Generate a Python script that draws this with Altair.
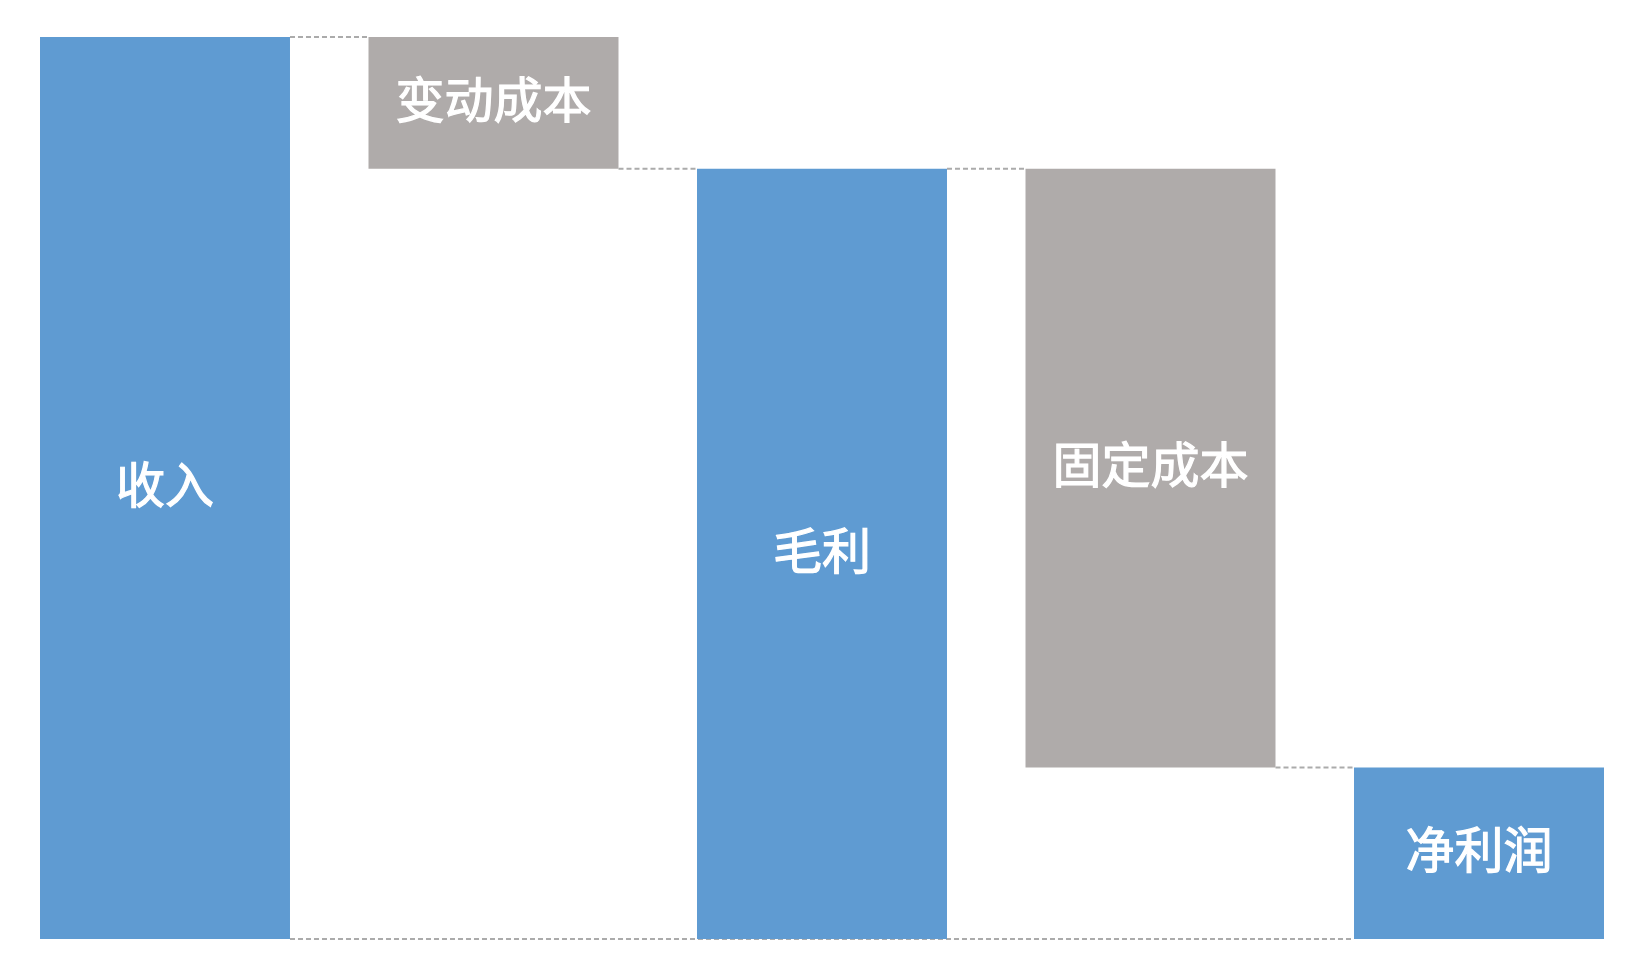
import altair as alt
import pandas as pd

categories = ["收入", "变动成本", "毛利", "固定成本", "净利润"]
amounts = [100.0, 14.6, 85.4, 66.4, 19.0]
kinds = ["total", "cost", "total", "cost", "total"]

colors = {"total": "#5F9BD2", "cost": "#AFABAA"}

rows = []
level = 0.0
for c, a, k in zip(categories, amounts, kinds):
    if k == "total":
        lo, hi = 0.0, a
        level = a
    else:
        lo, hi = level - a, level
        level = level - a
    rows.append(dict(cat=c, lo=lo, hi=hi, kind=k, mid=(lo + hi) / 2))
bars = pd.DataFrame(rows)

links = []
for i in range(len(rows) - 1):
    a, b = rows[i], rows[i + 1]
    lvl = a["hi"] if a["kind"] == "total" else a["lo"]
    links.append(dict(src=a["cat"], dst=b["cat"], lvl=lvl))
links.append(dict(src=categories[0], dst=categories[-1], lvl=0.0))
links = pd.DataFrame(links)

xscale = alt.Scale(domain=categories, paddingInner=0.239, paddingOuter=0)
yscale = alt.Scale(domain=[0, 100], nice=False, zero=True)

rules = alt.Chart(links).mark_rule(
    color="#ABABAB", strokeWidth=2, strokeDash=[5, 3]
).encode(
    x=alt.X("src:N", bandPosition=1, scale=xscale, axis=None),
    x2=alt.X2("dst:N", bandPosition=0),
    y=alt.Y("lvl:Q", scale=yscale, axis=None),
)

bar = alt.Chart(bars).mark_bar().encode(
    x=alt.X("cat:N", scale=xscale, axis=None),
    y=alt.Y("lo:Q", scale=yscale, axis=None),
    y2="hi:Q",
    color=alt.Color("kind:N", scale=alt.Scale(domain=list(colors.keys()), range=list(colors.values())), legend=None),
)

text = alt.Chart(bars).mark_text(
    color="white", fontSize=49, fontWeight="normal", font="Noto Sans CJK SC",
    align="center", baseline="middle", stroke="white", strokeWidth=1.2,
).encode(
    x=alt.X("cat:N", scale=xscale, axis=None),
    y=alt.Y("mid:Q", scale=yscale, axis=None),
    text="cat:N",
)

chart = alt.layer(rules, bar, text).properties(
    width=1564, height=902,
    padding={"left": 40, "top": 36, "right": 28, "bottom": 32},
    background="white",
).configure_view(strokeWidth=0)

chart.save("out.html", embed_options={"renderer": "svg", "actions": False})
